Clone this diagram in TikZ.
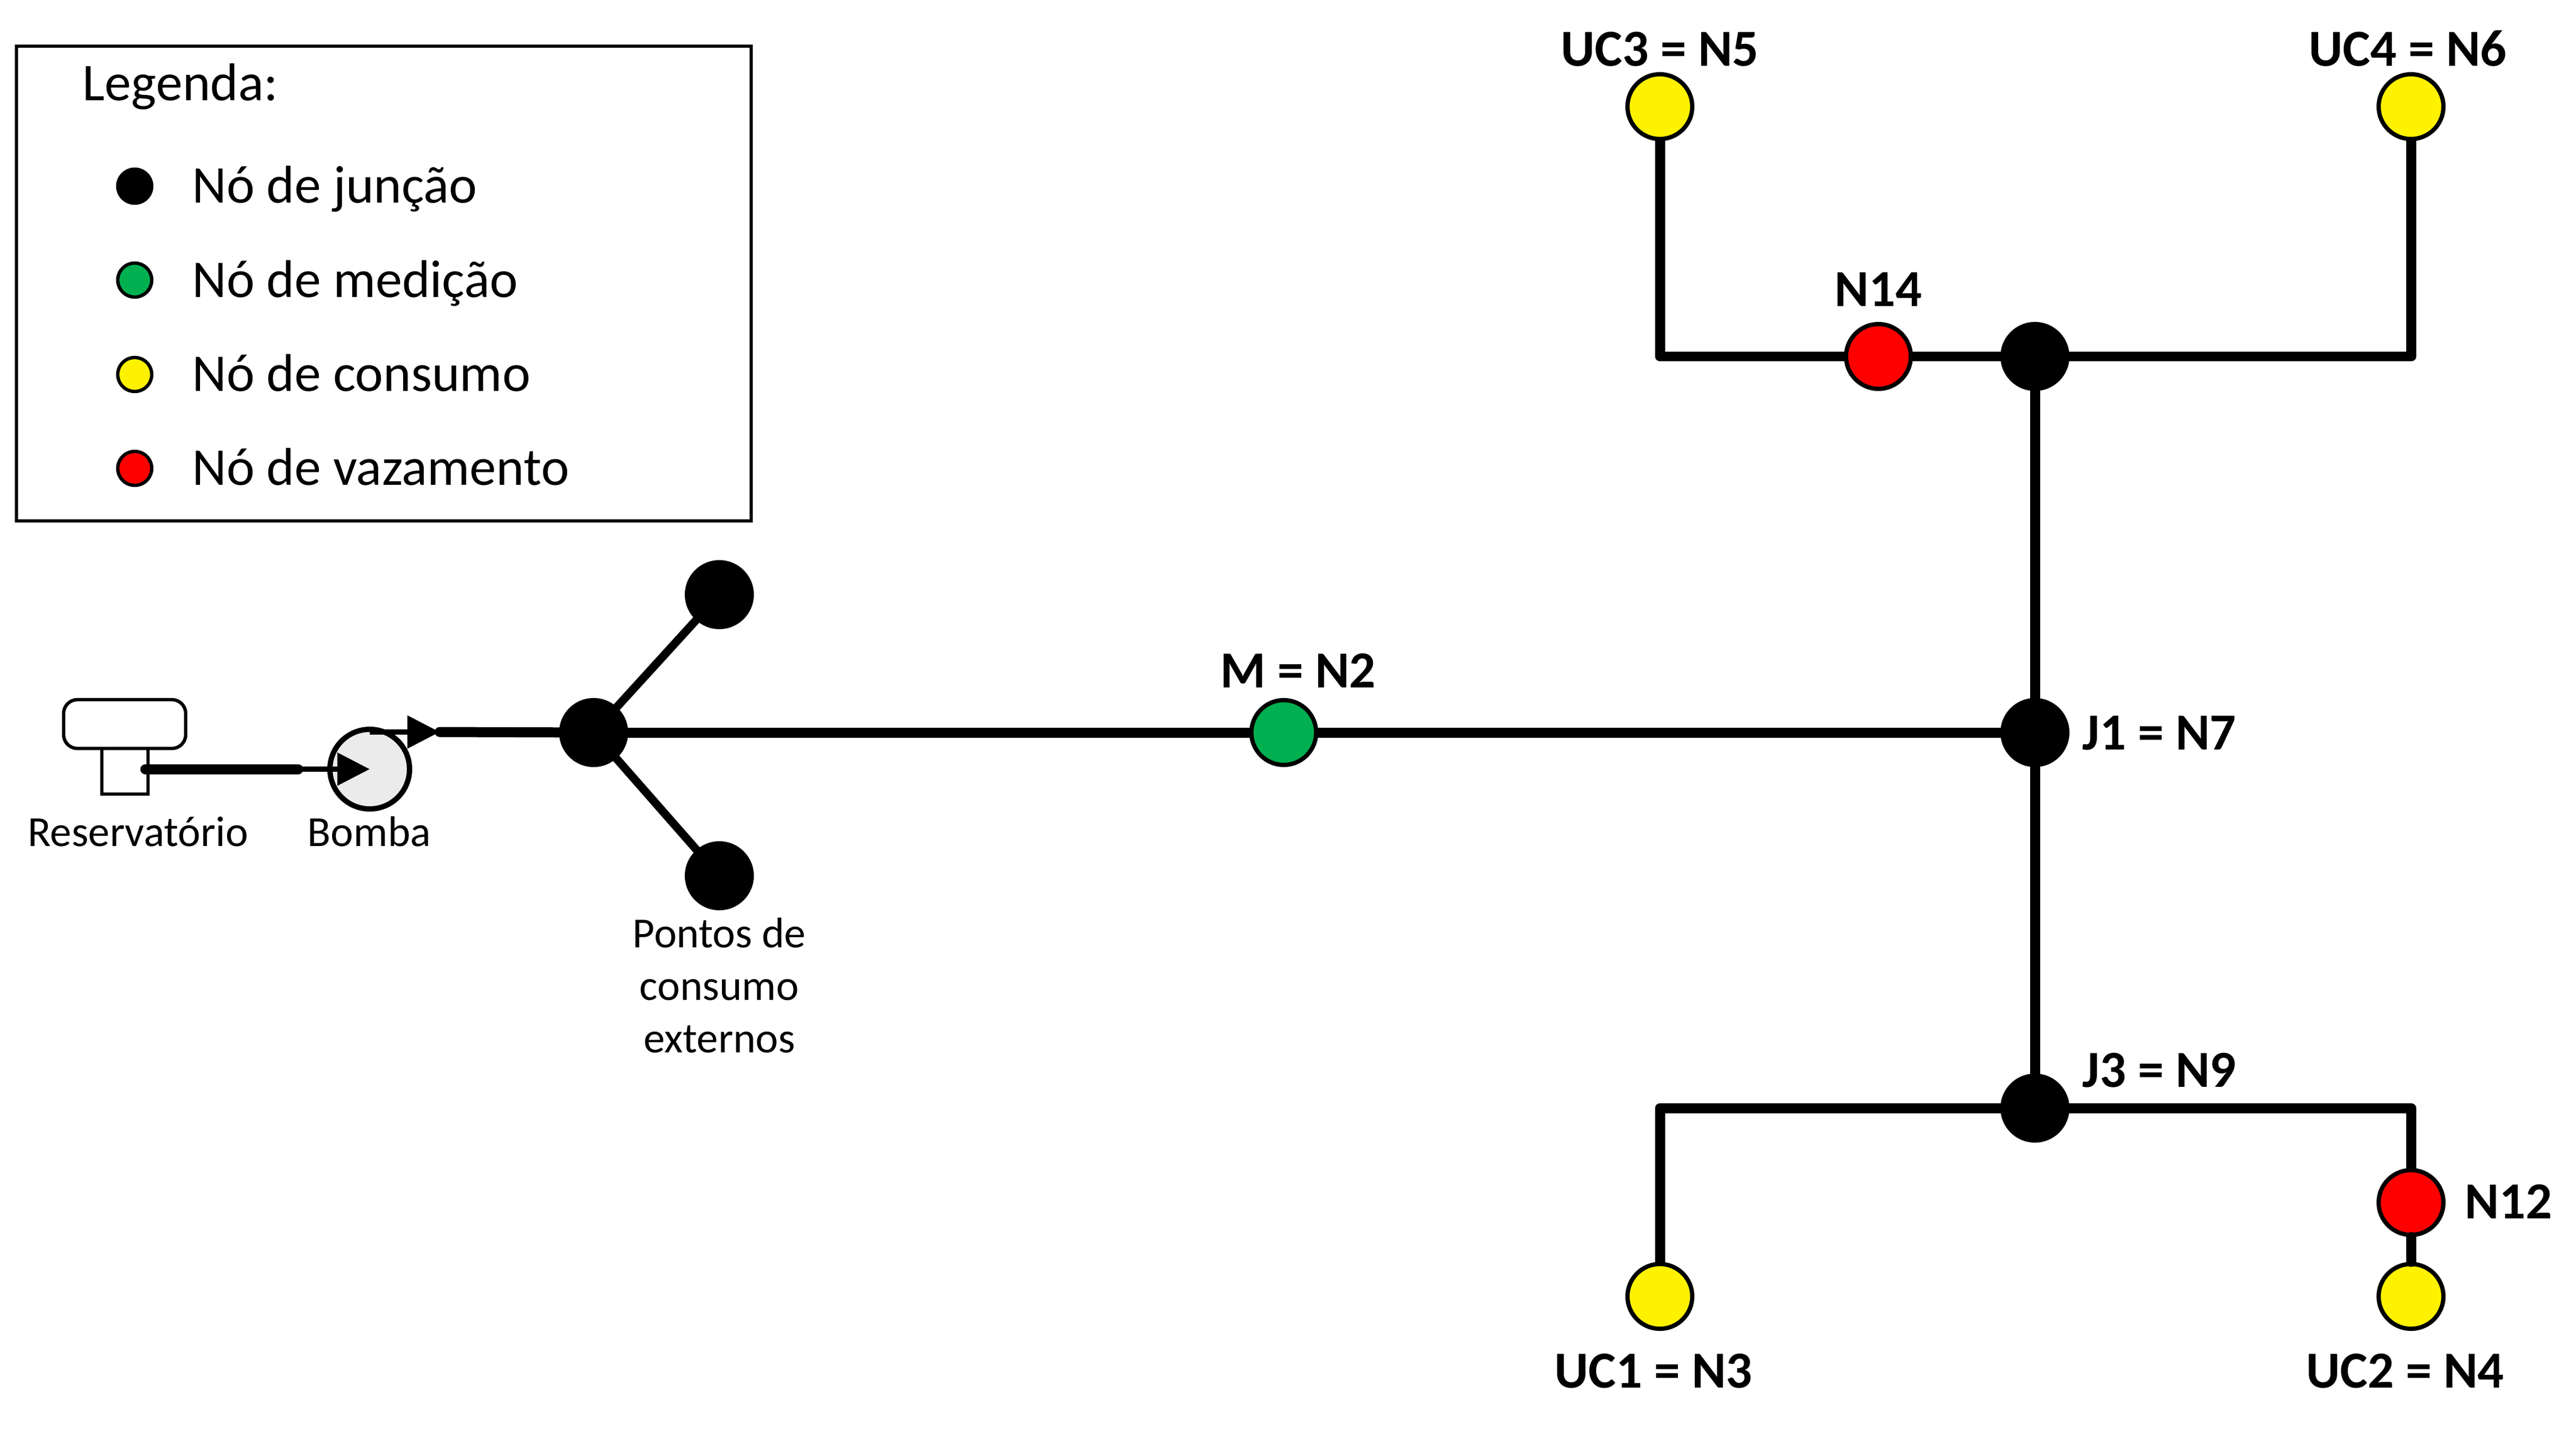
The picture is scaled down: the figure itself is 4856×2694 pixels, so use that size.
\documentclass[tikz,border=0pt]{standalone}
\usepackage{fontspec}
\setmainfont{Carlito}
\usetikzlibrary{arrows.meta,backgrounds}
\definecolor{nodegreen}{HTML}{00B050}
\definecolor{pumpgray}{HTML}{EBEBEB}
\tikzset{
  pxgrid/.style={x=0.01cm,y=-0.01cm},
  netnode/.style={circle,draw=black,line width=2.3pt,minimum size=1.22cm,inner sep=0pt},
  junction/.style={netnode,fill=black},
  meter/.style={netnode,fill=nodegreen},
  consumer/.style={netnode,fill=yellow},
  leak/.style={netnode,fill=red},
  legdot/.style={circle,draw=black,line width=1.8pt,minimum size=0.64cm,inner sep=0pt},
  pipe/.style={line width=5.4pt,line cap=round,line join=round},
  branch/.style={line width=4.4pt,line cap=round},
  flow/.style={line width=2.85pt,-{Triangle[length=0.61cm,width=0.6cm]}},
  boldlabel/.style={font=\fontsize{27.9}{30}\selectfont\bfseries,inner sep=0pt},
  legtext/.style={font=\fontsize{28.5}{30}\selectfont,inner sep=0pt,anchor=base west},
  smalllabel/.style={font=\fontsize{23}{26}\selectfont,inner sep=0pt,anchor=base},
}
\begin{document}
\begin{tikzpicture}[pxgrid]
\useasboundingbox (0,0) rectangle (4856,2694);
% legend
\node[draw=black,line width=1.7pt,minimum width=13.85cm,minimum height=8.95cm,inner sep=0pt] (legend) at (723.5,534.5) {};
\node[legtext] (legtitle) at (155,190) {Legenda:};
\node[legdot,fill=black] (l1) at (254,351) {};
\node[legdot,fill=nodegreen] (l2) at (254,528) {};
\node[legdot,fill=yellow] (l3) at (254,706) {};
\node[legdot,fill=red] (l4) at (254,883) {};
\node[legtext] (lt1) at (362,383) {Nó de junção};
\node[legtext] (lt2) at (362,560) {Nó de medição};
\node[legtext] (lt3) at (362,737) {Nó de consumo};
\node[legtext] (lt4) at (362,914) {Nó de vazamento};
% network nodes
\node[junction] (hub) at (1119,1381) {};
\node[junction] (top) at (1356,1121) {};
\node[junction] (bot) at (1356,1651) {};
\node[meter] (M) at (2420,1381) {};
\node[junction] (J1) at (3836,1381) {};
\node[junction] (J3) at (3836,2089) {};
\node[junction] (Jt) at (3836,672) {};
\node[leak] (N14) at (3541,672) {};
\node[consumer] (UC3) at (3129,201) {};
\node[consumer] (UC4) at (4545,201) {};
\node[consumer] (UC1) at (3129,2444) {};
\node[leak] (N12) at (4545,2267) {};
\node[consumer] (UC2) at (4545,2444) {};
\coordinate (cUC3) at (3129,672);
\coordinate (cUC4) at (4545,672);
\coordinate (cUC1) at (3129,2089);
\coordinate (cN12) at (4545,2089);
% pipes behind nodes
\begin{scope}[on background layer]
\draw[branch] (hub) -- (top);
\draw[branch] (hub) -- (bot);
\draw[pipe] (hub) -- (M);
\draw[pipe] (M) -- (J1);
\draw[pipe] (J1) -- (Jt);
\draw[pipe] (J1) -- (J3);
\draw[pipe] (UC3) -- (cUC3) -- (N14);
\draw[pipe] (N14) -- (Jt);
\draw[pipe] (Jt) -- (cUC4) -- (UC4);
\draw[pipe] (UC1) -- (cUC1) -- (J3);
\draw[pipe] (J3) -- (cN12) -- (N12);
\end{scope}
\draw[pipe] (N12.south) -- (UC2.north);
% tank and pump
\node[draw=black,line width=1.8pt,fill=white,minimum width=0.87cm,minimum height=0.88cm,inner sep=0pt] (stem) at (235.5,1453) {};
\node[draw=black,line width=1.8pt,fill=white,rounded corners=0.26cm,minimum width=2.3cm,minimum height=0.92cm,inner sep=0pt] (tank) at (235,1365) {};
\node[circle,draw=black,line width=2.85pt,fill=pumpgray,minimum size=1.5cm,inner sep=0pt] (pump) at (697,1450) {};
\coordinate (valve) at (562,1450);
\coordinate (out) at (829,1380);
\coordinate (inlet) at (274,1450);
\draw[flow] (valve) -- (pump.center);
\draw[pipe] (inlet) -- (valve);
\draw[flow] (pump.north |- out) -- (out);
\draw[pipe] (out) -- (hub);
% labels
\node[boldlabel,anchor=base] (a) at (3129,125) {UC3 = N5};
\node[boldlabel,anchor=base] (b) at (4539,125) {UC4 = N6};
\node[boldlabel,anchor=base] (c) at (3541,577) {N14};
\node[boldlabel,anchor=base] (d) at (2447,1296) {M = N2};
\node[boldlabel,anchor=base west] (e) at (3925,1413) {J1 = N7};
\node[boldlabel,anchor=base west] (f) at (3925,2049) {J3 = N9};
\node[boldlabel,anchor=base west] (g) at (4646,2297) {N12};
\node[boldlabel,anchor=base] (h) at (3117,2616) {UC1 = N3};
\node[boldlabel,anchor=base] (i) at (4534,2616) {UC2 = N4};
\node[smalllabel] (r) at (260,1595) {Reservatório};
\node[smalllabel] (s) at (696,1595) {Bomba};
\node[smalllabel] (t1) at (1356,1786) {Pontos de};
\node[smalllabel] (t2) at (1356,1885) {consumo};
\node[smalllabel] (t3) at (1356,1984) {externos};
\end{tikzpicture}
\end{document}
